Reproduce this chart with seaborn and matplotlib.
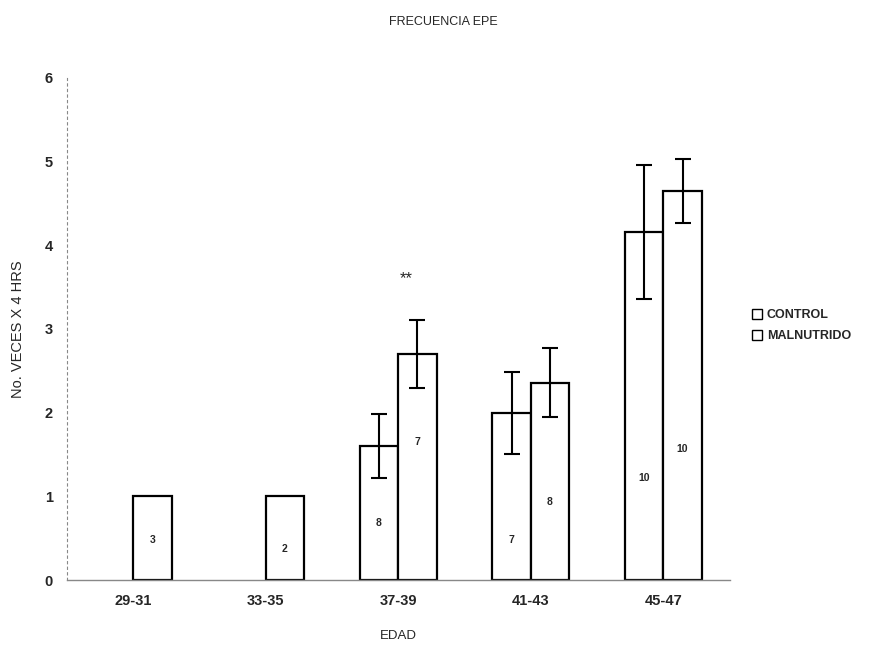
import numpy as np
import pandas as pd
import seaborn as sns
import matplotlib.pyplot as plt
from matplotlib.patches import Patch

# data
edad = ['29-31', '33-35', '37-39', '41-43', '45-47']
control = [None, None, 1.60, 2.00, 4.16]
control_err = [None, None, 0.38, 0.49, 0.80]
control_n = [None, None, 8, 7, 10]
malnutrido = [1.00, 1.00, 2.70, 2.36, 4.65]
malnutrido_err = [None, None, 0.41, 0.41, 0.38]
malnutrido_n = [3, 2, 7, 8, 10]
grupos = ['CONTROL', 'MALNUTRIDO']

# where the n labels sit inside each bar (data units)
control_n_y = [None, None, 0.68, 0.48, 1.22]
malnutrido_n_y = [0.48, 0.37, 1.65, 0.93, 1.57]

rows = []
for i, e in enumerate(edad):
    for g, vals, errs, ns, ny in [('CONTROL', control, control_err, control_n, control_n_y),
                                  ('MALNUTRIDO', malnutrido, malnutrido_err, malnutrido_n, malnutrido_n_y)]:
        if vals[i] is not None:
            rows.append({'edad': e, 'grupo': g, 'valor': vals[i],
                         'err': errs[i], 'n': ns[i], 'ny': ny[i]})
df = pd.DataFrame(rows)

sns.set_style('white')
plt.rcParams['font.family'] = ['Liberation Sans', 'DejaVu Sans']

fig = plt.figure(figsize=(8.87, 6.54), dpi=100)
ax = fig.add_axes([0.0755, 0.113, 0.747, 0.768])

sns.barplot(data=df, x='edad', y='valor', hue='grupo', order=edad, hue_order=grupos,
            palette=['white', 'white'], edgecolor='black', linewidth=1.6,
            width=0.58, errorbar=None, legend=False, ax=ax)

# error bars and n labels, taken from the drawn patches
# (containers only hold the bars that exist, in category order)
for cont, g in zip(ax.containers, grupos):
    sub = df[df.grupo == g]
    for bar, (_, r) in zip(cont, sub.iterrows()):
        cx = bar.get_x() + bar.get_width() / 2
        if not pd.isna(r['err']):
            ax.errorbar(cx, r['valor'], yerr=r['err'], color='black', lw=1.5,
                        capsize=6, capthick=1.5)
        ax.text(cx, r['ny'], str(int(r['n'])), ha='center', va='center',
                fontsize=7.5, fontweight='bold')

ax.text(2.06, 3.6, '**', ha='center', va='center', fontsize=12)

ax.set_xlim(-0.5, 4.5)
ax.set_ylim(0, 6)
ax.set_yticks(range(7))
for s in ['top', 'right']:
    ax.spines[s].set_visible(False)
ax.spines['left'].set_color('#888888')
ax.spines['left'].set_linestyle((0, (2, 3)))
ax.spines['left'].set_linewidth(0.8)
ax.spines['bottom'].set_color('#888888')
ax.spines['bottom'].set_linewidth(1.0)
ax.tick_params(axis='both', length=0, labelsize=10.5, pad=10)
for t in ax.get_xticklabels() + ax.get_yticklabels():
    t.set_fontweight('bold')

ax.set_xlabel('EDAD', fontsize=9.5, labelpad=16)
ax.set_ylabel('No. VECES X 4 HRS', fontsize=10.5, labelpad=14)
fig.suptitle('FRECUENCIA EPE', fontsize=9, y=0.975)

handles = [Patch(facecolor='white', edgecolor='black', linewidth=1.0) for _ in grupos]
fig.legend(handles, grupos, loc='center left', bbox_to_anchor=(0.835, 0.502),
           frameon=False, handlelength=0.8, handleheight=0.8, handletextpad=0.4,
           labelspacing=0.7, prop={'weight': 'bold', 'size': 9})

fig.savefig('out.png', dpi=100)
